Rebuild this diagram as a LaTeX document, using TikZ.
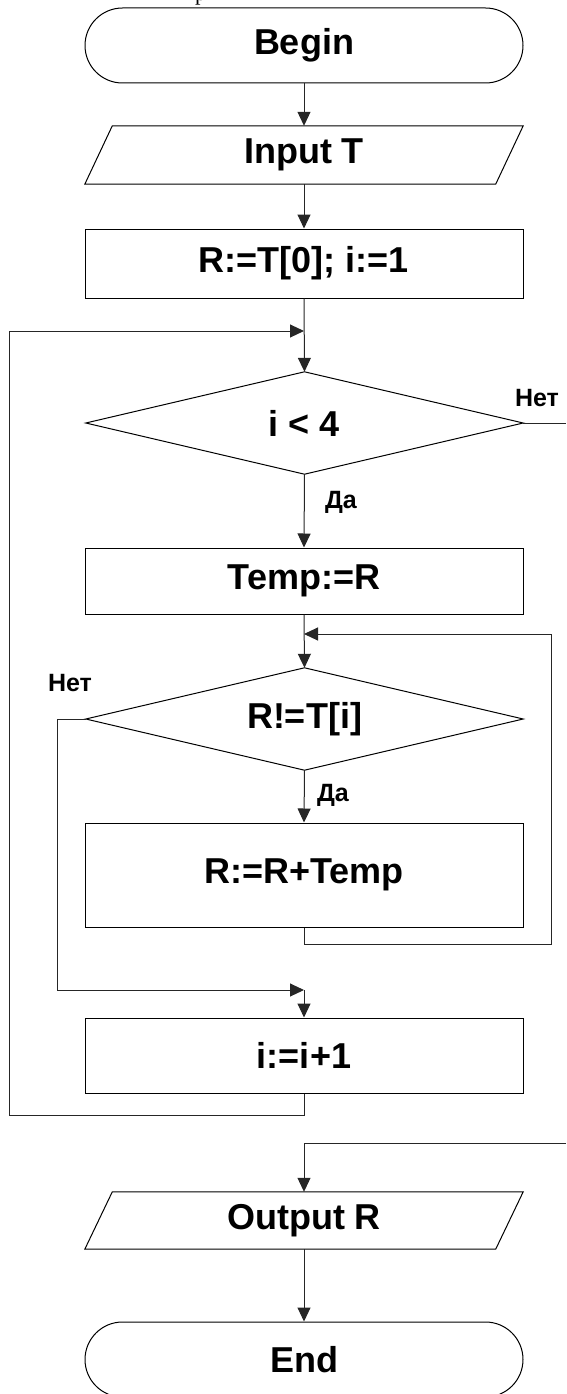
\documentclass[tikz,border=0pt]{standalone}
\usepackage{fontspec}
\setmainfont{Liberation Sans}
\newfontfamily\captionserif{Liberation Serif}
\usetikzlibrary{arrows.meta}

\begin{document}
\begin{tikzpicture}[x=1pt,y=-1pt,
  txt/.style={font=\bfseries\fontsize{36}{40}\selectfont, inner sep=0pt, minimum width=438pt},
  lbl/.style={font=\bfseries\fontsize{25}{30}\selectfont, inner sep=0pt},
  outline/.style={draw=black, line width=1pt},
  terminal/.style={txt, outline, rounded corners=37.5pt, minimum height=75pt},
  process/.style={txt, outline, rectangle},
  plain/.style={txt, rectangle},
  flow/.style={draw=black!85, line width=1pt},
  arr/.style={flow, -{Triangle[length=14pt,width=13pt]}}]

\useasboundingbox (0,0) rectangle (566,1394);

% heading text above the chart (only its lowest part falls on the page)
\node[font=\captionserif\fontsize{22}{26}\selectfont, inner sep=0pt, anchor=base west] (head) at (195,0.5) {р};

% blocks
\node[terminal] (begin) at (304,45.5) {Begin};
\node[plain, minimum height=58pt] (input) at (304,155) {Input T};
\draw[outline] ([xshift=27.5pt]input.north west) -- (input.north east)
  -- ([xshift=-27.5pt]input.south east) -- (input.south west) -- cycle;
\node[process, minimum height=69pt] (init) at (304,263.5) {R:=T[0]; i:=1};

\node[plain, minimum width=437pt, minimum height=102pt] (d1) at (304.5,423) {i < 4};
\draw[outline] (d1.north) -- (d1.east) -- (d1.south) -- (d1.west) -- cycle;

\node[process, minimum height=66pt] (temp) at (304,581) {Temp:=R};

\node[plain, minimum width=437pt, minimum height=102pt] (d2) at (304.5,719) {R!=T[i]};
\draw[outline] (d2.north) -- (d2.east) -- (d2.south) -- (d2.west) -- cycle;

\node[process, minimum height=104pt] (add) at (304,875) {R:=R+Temp};
\node[process, minimum height=75pt] (inc) at (304,1055.5) {i:=i+1};

\node[plain, minimum height=57pt] (output) at (304,1220.5) {Output R};
\draw[outline] ([xshift=27.5pt]output.north west) -- (output.north east)
  -- ([xshift=-27.5pt]output.south east) -- (output.south west) -- cycle;
\node[terminal] (end) at (304,1359.5) {End};

% branch labels
\node[lbl] (no1) at (537,398) {Нет};
\node[lbl] (yes1) at (341,502) {Да};
\node[lbl] (no2) at (70,683) {Нет};
\node[lbl] (yes2) at (333,795) {Да};

% junction and corner points
\coordinate (j1) at (304,331);
\coordinate (j2) at (304,634);
\coordinate (j3) at (304,990);
\coordinate (exitA) at (566,423);
\coordinate (exitB) at (566,1143);
\coordinate (j4) at (304,1143);

% main flow
\draw[arr] (begin.south) -- (input.north);
\draw[arr] (input.south) -- (init.north);
\draw[arr] (init.south) -- (d1.north);
\draw[arr] (d1.south) -- (temp.north);
\draw[arr] (temp.south) -- (d2.north);
\draw[arr] (d2.south) -- (add.north);
\draw[arr] (j3) -- (inc.north);
\draw[arr] (output.south) -- (end.north);

% inner loop back to the second test
\draw[arr] (add.south) -- (304,944) -- (551,944) -- (551,634) -- (j2);
% exit of the inner loop
\draw[arr] (d2.west) -- (57,719) -- (57,990) -- (j3);
% outer loop back to the first test
\draw[arr] (inc.south) -- (304,1115) -- (9,1115) -- (9,331) -- (j1);
% exit of the outer loop
\draw[flow] (d1.east) -- (exitA);
\draw[arr] (exitB) -- (j4) -- (output.north);

\end{tikzpicture}
\end{document}
